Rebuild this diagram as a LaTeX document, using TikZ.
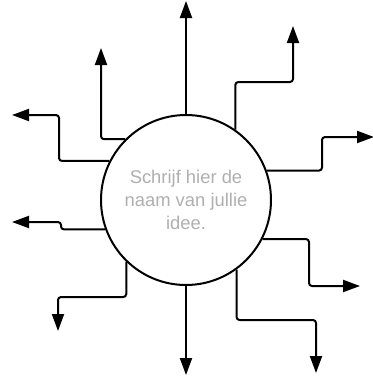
\documentclass[tikz,border=0pt]{standalone}
\usepackage{fontspec}
\setmainfont{Liberation Sans}
\usetikzlibrary{arrows.meta, positioning, calc}
\definecolor{TextGray}{RGB}{175,175,175}

\begin{document}
\begin{tikzpicture}[x=1pt, y=-1pt,
  tak/.style={line width=2pt, rounded corners=3pt, -{Triangle[length=17pt,width=12pt]}}]
\useasboundingbox (0,0) rectangle (373,376);
\node[draw, circle, line width=2pt, minimum size=170pt, align=center, text=TextGray,
  font=\fontsize{18.4}{23}\selectfont] (idee) at (186,200) {Schrijf hier de\\naam van jullie\\idee.};
\coordinate (boven) at (186,1);
\coordinate (onder) at (186,375);
\coordinate (lb) at (101,48);
\coordinate (lbb) at (12,115);
\coordinate (rb) at (293,26);
\coordinate (r) at (374,137);
\coordinate (lo) at (12,222);
\coordinate (loo) at (58,331);
\coordinate (ro) at (360,286);
\coordinate (roo) at (316,373);
\draw[tak] (idee.north) -- (boven);
\draw[tak] (idee.south) -- (onder);
\draw[tak] (idee.135) -| (lb);
\draw[tak] (idee.153) -| (59,115) -- (lbb);
\draw[tak] (idee.55) |- (293,82) -- (rb);
\draw[tak] (idee.20) -| (322,137) -- (r);
\draw[tak] (idee.200) -| (61,222) -- (lo);
\draw[tak] (idee.226) |- (58,297) -- (loo);
\draw[tak] (idee.-27) -| (309,286) -- (ro);
\draw[tak] (idee.-54) |- (316,320) -- (roo);
\end{tikzpicture}
\end{document}
